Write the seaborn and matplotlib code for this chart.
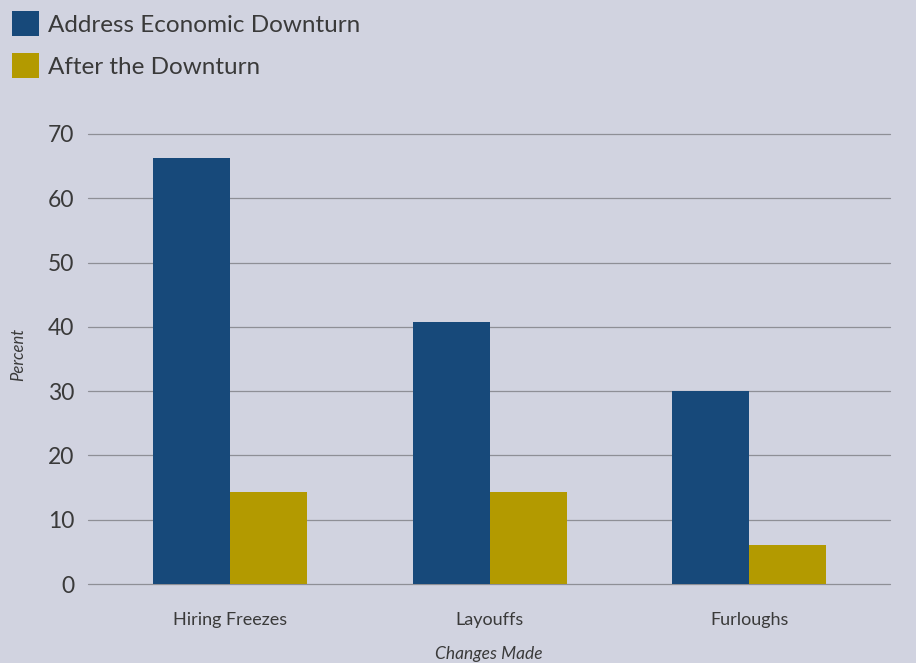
import pandas as pd
import matplotlib.pyplot as plt
import seaborn as sns
from matplotlib.patches import Patch

# data
changes = ["Hiring Freezes", "Layouffs", "Furloughs"]
address_downturn = [66.2, 40.8, 30.0]
after_downturn = [14.3, 14.3, 6.1]
series = ["Address Economic Downturn", "After the Downturn"]

bg = "#D1D3E0"
colors = ["#17497A", "#B39A00"]
txt = "#3a3a3a"

df = pd.DataFrame({
    "change": changes * 2,
    "value": address_downturn + after_downturn,
    "series": [series[0]] * 3 + [series[1]] * 3,
})

sns.set_style("white")
plt.rcParams["font.family"] = ["Lato", "DejaVu Sans"]

fig = plt.figure(figsize=(9.16, 6.63), dpi=100, facecolor=bg)
ax = fig.add_axes([0.096, 0.119, 0.876, 0.679], facecolor=bg)

sns.barplot(data=df, x="change", y="value", hue="series", palette=colors,
            width=0.593, gap=0, saturation=1, linewidth=0, ax=ax,
            legend=False, zorder=3)

ax.set_xlim(-0.547, 2.543)
ax.set_ylim(0, 70)
ax.set_yticks(range(0, 71, 10))
ax.yaxis.grid(True, color="#8e8f96", linewidth=0.9, zorder=0)
ax.set_axisbelow(True)
for gl in ax.get_ygridlines():
    gl.set_clip_on(False)
for s in ax.spines.values():
    s.set_visible(False)
ax.tick_params(axis="y", length=0, pad=10, labelsize=16.5, labelcolor=txt)
ax.tick_params(axis="x", length=0, pad=20, labelsize=13, labelcolor=txt)

ax.set_xlabel("Changes Made", fontsize=12.5, style="italic", color=txt,
              labelpad=13)
ax.set_ylabel("Percent", fontsize=12, style="italic", color=txt)
ax.yaxis.set_label_coords(-0.077, 0.51)

handles = [Patch(facecolor=c, edgecolor="none") for c in colors]
fig.legend(handles, series, loc="upper left", bbox_to_anchor=(0.003, 0.998),
           frameon=False, handlelength=1.1, handleheight=1.2,
           handletextpad=0.38, labelspacing=0.72, borderaxespad=0.0,
           labelcolor=txt, prop={"size": 17.5})

fig.savefig("out.png", dpi=100, facecolor=bg)
